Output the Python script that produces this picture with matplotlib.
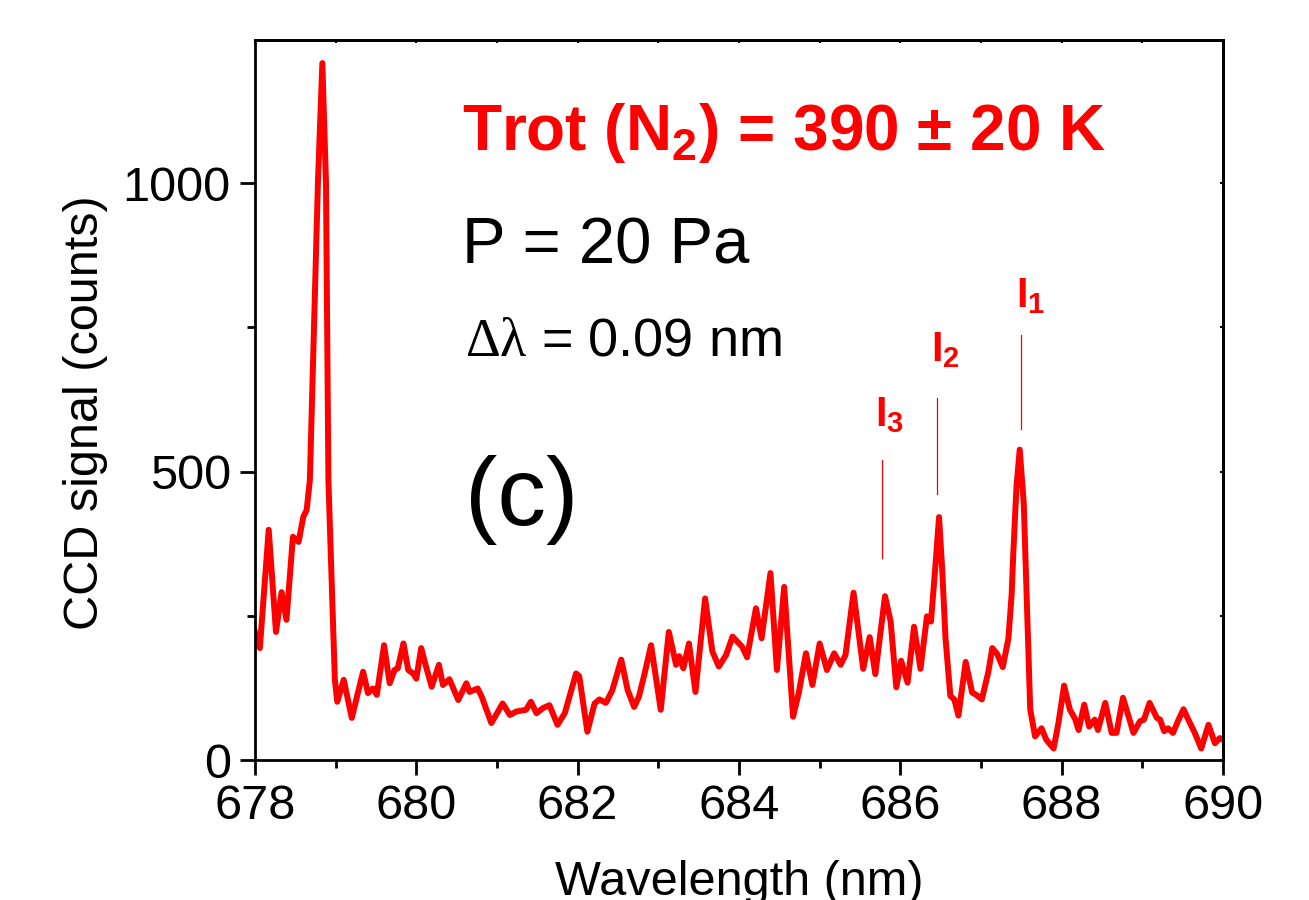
import matplotlib
matplotlib.use("Agg")
import matplotlib.pyplot as plt
from matplotlib.ticker import MultipleLocator

plt.rcParams["font.family"] = ["Liberation Sans", "DejaVu Sans"]
plt.rcParams["mathtext.fontset"] = "custom"
plt.rcParams["mathtext.rm"] = "Liberation Serif"
plt.rcParams["mathtext.it"] = "Liberation Sans:italic"
plt.rcParams["mathtext.bf"] = "Liberation Sans:bold"

# spectrum (nm, counts)
wavelength = [
    678.00, 678.06, 678.17, 678.26, 678.33, 678.39, 678.47, 678.54, 678.60, 678.64,
    678.68, 678.73, 678.78, 678.835, 678.88, 678.895, 678.91, 678.95, 678.99, 679.02,
    679.10, 679.20, 679.34, 679.40, 679.46, 679.51, 679.60, 679.67, 679.73, 679.77,
    679.84, 679.90, 679.96, 680.00, 680.06, 680.12, 680.19, 680.28, 680.33, 680.41,
    680.52, 680.62, 680.66, 680.76, 680.81, 680.93, 681.07, 681.16, 681.24, 681.36,
    681.42, 681.49, 681.57, 681.65, 681.75, 681.84, 681.98, 682.02, 682.12, 682.21,
    682.27, 682.35, 682.43, 682.54, 682.62, 682.70, 682.76, 682.83, 682.91, 683.03,
    683.13, 683.22, 683.26, 683.31, 683.38, 683.46, 683.58, 683.67, 683.75, 683.84,
    683.92, 683.98, 684.04, 684.10, 684.21, 684.28, 684.39, 684.47, 684.56, 684.67,
    684.74, 684.83, 684.91, 685.00, 685.09, 685.18, 685.26, 685.32, 685.42, 685.54,
    685.62, 685.69, 685.81, 685.88, 685.95, 686.01, 686.09, 686.17, 686.25, 686.33,
    686.38, 686.43, 686.48, 686.52, 686.56, 686.62, 686.67, 686.72, 686.81, 686.89,
    686.95, 687.01, 687.09, 687.14, 687.20, 687.27, 687.34, 687.38, 687.40, 687.44,
    687.48, 687.53, 687.59, 687.61, 687.67, 687.75, 687.81, 687.90, 687.96, 688.03,
    688.10, 688.17, 688.21, 688.28, 688.34, 688.41, 688.45, 688.54, 688.62, 688.68,
    688.76, 688.89, 688.97, 689.02, 689.09, 689.18, 689.22, 689.27, 689.32, 689.38,
    689.44, 689.51, 689.57, 689.65, 689.73, 689.82, 689.90, 689.96, 690.00,
]
counts = [
    222, 194, 399, 222, 291, 243, 387, 378, 422, 433,
    485, 745, 1000, 1208, 1000, 745, 485, 312, 139, 101,
    139, 73, 153, 116, 124, 113, 199, 133, 156, 159,
    202, 156, 150, 141, 194, 162, 127, 165, 130, 140,
    104, 133, 118, 124, 110, 64, 98, 78, 84, 87,
    101, 81, 90, 95, 61, 81, 150, 145, 49, 98,
    105, 99, 121, 174, 121, 92, 110, 150, 199, 87,
    222, 165, 180, 159, 202, 118, 280, 188, 162, 182,
    214, 205, 196, 178, 263, 211, 324, 156, 300, 75,
    116, 185, 130, 202, 156, 185, 165, 182, 290, 158,
    213, 149, 284, 240, 126, 172, 134, 231, 158, 249,
    240, 328, 421, 328, 211, 111, 105, 77, 170, 117,
    112, 105, 152, 194, 184, 161, 211, 287, 357, 474,
    538, 445, 181, 88, 41, 55, 35, 20, 64, 129,
    88, 70, 52, 96, 58, 70, 52, 99, 47, 47,
    108, 47, 67, 70, 99, 73, 70, 50, 55, 47,
    67, 88, 70, 47, 20, 61, 29, 38, 35,
]

# marked lines I1, I2, I3
line_names = ["1", "2", "3"]
line_pos = [687.49, 686.455, 685.776]
line_low = [574, 461, 350]
line_high = [737, 628, 520]
label_x = [687.43, 686.38, 685.68]
label_y = [785, 691, 579]

red = "#ff0000"

fig = plt.figure(figsize=(13.09, 9), dpi=100)
ax = fig.add_axes([255 / 1309, 140 / 900, 968 / 1309, 720 / 900])

ax.plot(wavelength, counts, color=red, lw=4.3, solid_joinstyle="round")

for name, x, lo, hi, lx, ly in zip(line_names, line_pos, line_low, line_high, label_x, label_y):
    ax.plot([x, x], [lo, hi], color=red, lw=0.9)
    ax.text(lx, ly, r"$\mathbf{I_%s}$" % name, color=red, fontsize=30,
            ha="left", va="baseline")

ax.text(0.2138, 0.847, r"Trot (N$_\mathbf{2}$) = 390 ± 20 K", transform=ax.transAxes,
        color=red, fontsize=46, fontweight="bold", va="baseline")
ax.text(0.2138, 0.689, "P = 20 Pa", transform=ax.transAxes, fontsize=47, va="baseline")
ax.text(0.217, 0.5625, r"$\mathrm{\Delta\lambda}$ = 0.09 nm", transform=ax.transAxes,
        fontsize=39, va="baseline")
ax.text(0.217, 0.326, "(c)", transform=ax.transAxes, fontsize=70, va="baseline")

ax.set_xlim(678, 690)
ax.set_ylim(0, 1248)
ax.xaxis.set_major_locator(MultipleLocator(2))
ax.xaxis.set_minor_locator(MultipleLocator(1))
ax.yaxis.set_major_locator(MultipleLocator(500))
ax.yaxis.set_minor_locator(MultipleLocator(250))

for s in ax.spines.values():
    s.set_linewidth(2.0)
ax.tick_params(which="major", direction="out", length=10.5, width=2.0,
               labelsize=35, pad=7)
ax.tick_params(which="minor", direction="out", length=5.5, width=2.0)

# tiny inward ticks on the top and right spines
top = ax.secondary_xaxis("top")
top.xaxis.set_major_locator(MultipleLocator(1))
top.tick_params(direction="in", length=2, width=1.5, labeltop=False)
top.spines["top"].set_linewidth(2.0)
right = ax.secondary_yaxis("right")
right.yaxis.set_major_locator(MultipleLocator(250))
right.tick_params(direction="in", length=2, width=1.5, labelright=False)
right.spines["right"].set_linewidth(2.0)

ax.set_xlabel("Wavelength (nm)", fontsize=35, labelpad=22)
ax.set_ylabel("CCD signal (counts)", fontsize=35)
ax.yaxis.set_label_coords(-0.152, 0.483)

fig.savefig("out.png", dpi=100)
